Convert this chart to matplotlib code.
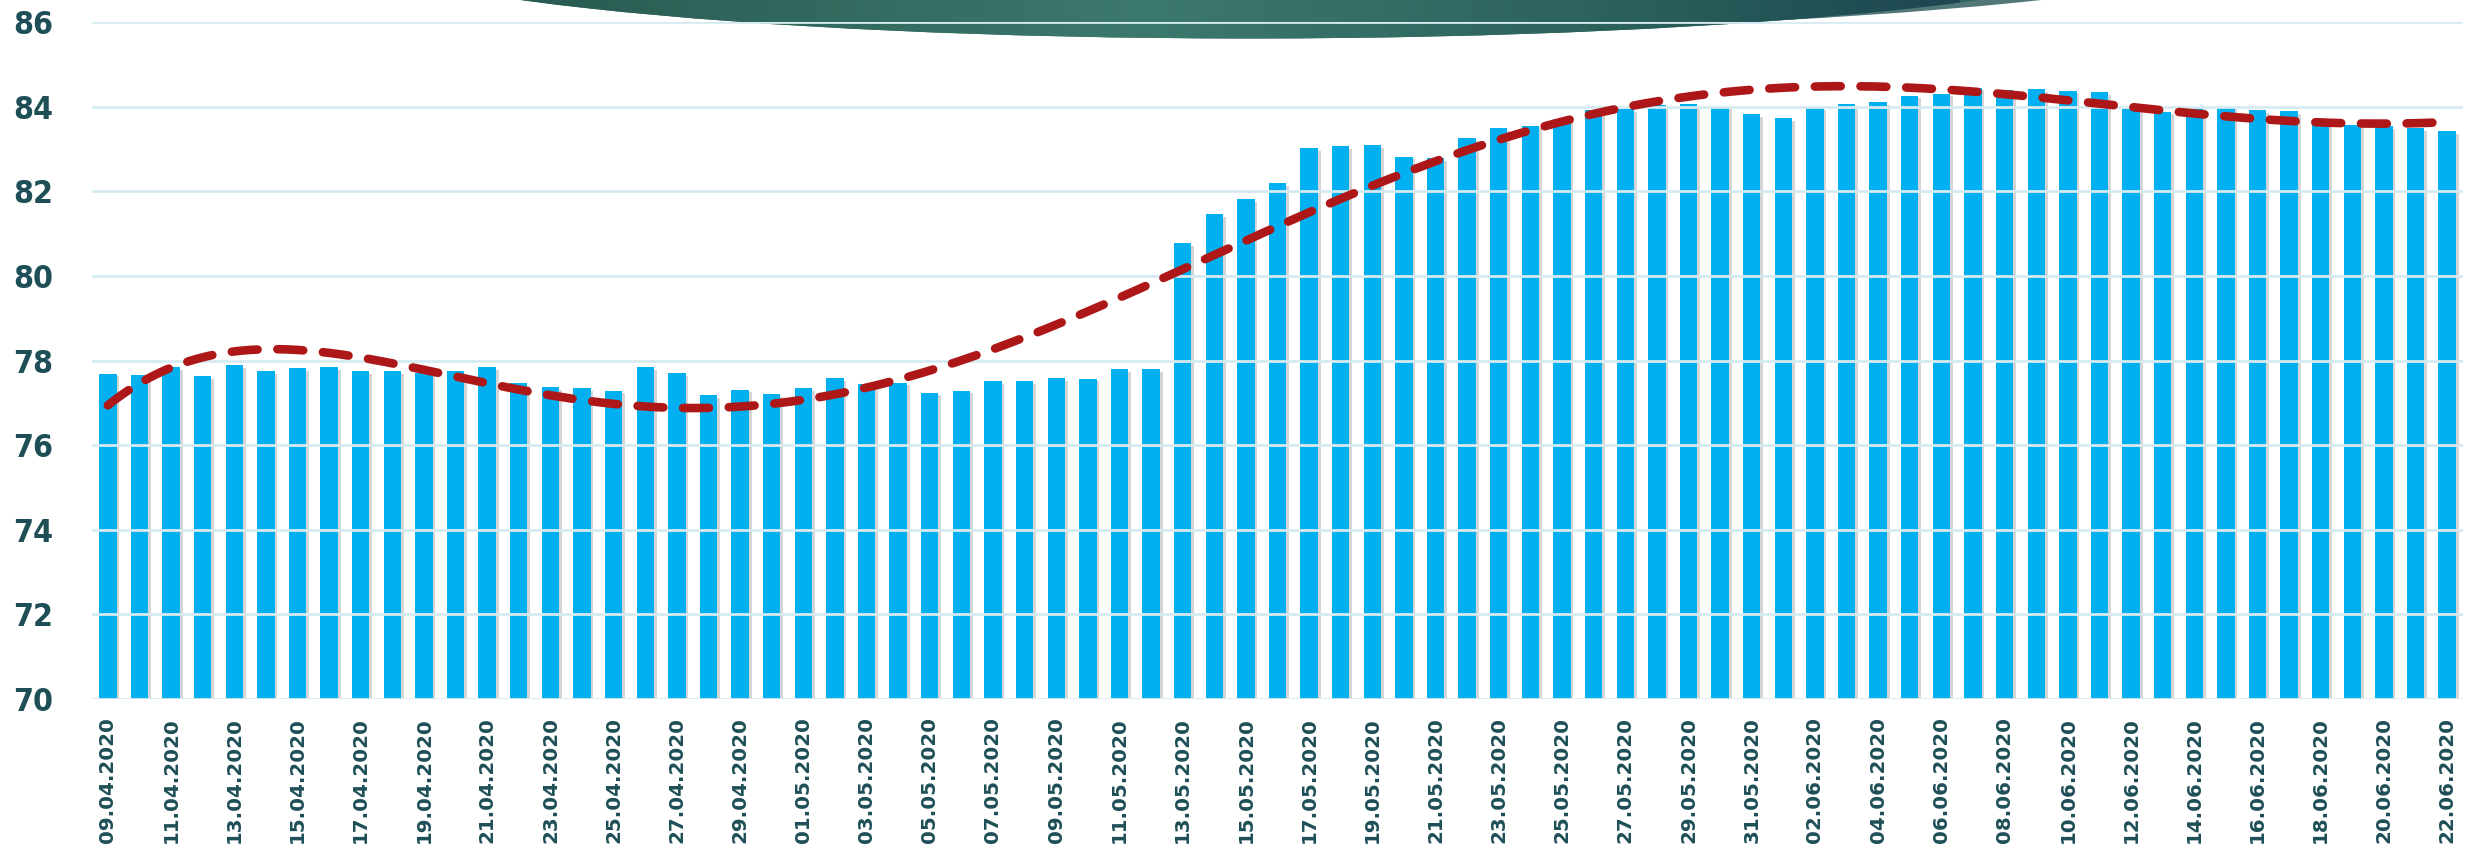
import numpy as np
import matplotlib
matplotlib.use("Agg")
from matplotlib import pyplot as plt
from matplotlib.patches import Ellipse
from matplotlib.colors import LinearSegmentedColormap
import matplotlib.patheffects as pe
import datetime as dt

# daily share values, 09.04.2020 - 22.06.2020
start = dt.date(2020, 4, 9)
values = [
    77.69, 77.65, 77.84, 77.63, 77.89, 77.75, 77.82, 77.84, 77.75, 77.75,
    77.70, 77.75, 77.84, 77.46, 77.38, 77.35, 77.29, 77.84, 77.71, 77.19,
    77.31, 77.21, 77.35, 77.59, 77.45, 77.48, 77.24, 77.29, 77.52, 77.52,
    77.58, 77.57, 77.80, 77.80, 80.78, 81.46, 81.82, 82.19, 83.02, 83.06,
    83.09, 82.82, 82.79, 83.26, 83.49, 83.55, 83.71, 83.92, 83.95, 84.05,
    84.07, 84.00, 83.83, 83.73, 83.98, 84.07, 84.11, 84.26, 84.31, 84.45,
    84.40, 84.41, 84.38, 84.35, 83.95, 83.88, 84.00, 84.00, 83.92, 83.90,
    83.62, 83.57, 83.54, 83.50, 83.43,
]
dates = [(start + dt.timedelta(days=i)).strftime("%d.%m.%Y") for i in range(len(values))]

teal = "#1E4F57"
bar_color = "#00B0F0"
grid_color = "#D6EBF1"

fig = plt.figure(figsize=(24.70, 8.55), dpi=100)

# decorative banner behind the chart (pixel coordinates, y downwards)
bg = fig.add_axes([0, 0, 1, 1], zorder=0)
bg.axis("off")
sliver = Ellipse((1300, -70), 2030, 205, facecolor="#527779", edgecolor="none")
bg.add_patch(sliver)
shape = Ellipse((1250, -64), 1868, 205, facecolor="#2F675F", edgecolor="none")
bg.add_patch(shape)
band = LinearSegmentedColormap.from_list(
    "band", [(0, "#27594F"), (0.45, "#3C796D"), (0.75, "#2C635D"), (1.0, "#1D4650")])
img = bg.imshow(np.linspace(0, 1, 256)[np.newaxis, :], extent=(480, 1960, 60, -10),
                cmap=band, aspect="auto", vmin=0, vmax=1, zorder=2)
img.set_clip_path(shape)
bg.set_xlim(0, 2470)
bg.set_ylim(855, 0)

ax = fig.add_axes([92 / 2470, 156 / 855, (2463 - 92) / 2470, 677 / 855], zorder=1)
ax.patch.set_alpha(0)

x = np.arange(len(values))
bars = ax.bar(x, np.array(values) - 70, bottom=70, width=0.55, color=bar_color, zorder=2)
for b in bars:
    b.set_path_effects([pe.SimplePatchShadow(offset=(2, -2), shadow_rgbFace="#888888", alpha=0.35),
                        pe.Normal()])

# polynomial trend over the daily values
coef = np.polyfit(x + 1, values, 6)
xs = np.linspace(0, len(values) - 1, 400)
ax.plot(xs, np.polyval(coef, xs + 1), color="#AE1717", lw=6.2,
        linestyle=(0, (3.0, 2.3)), dash_capstyle="round", zorder=3)

ax.set_ylim(70, 86)
ax.set_xlim(-0.5, len(values) - 0.5)
ax.set_yticks(np.arange(70, 87, 2))
ax.yaxis.grid(True, color=grid_color, lw=2, zorder=1)
ax.set_axisbelow(False)
for s in ax.spines.values():
    s.set_visible(False)
ax.tick_params(axis="both", length=0)
ax.tick_params(axis="y", pad=28)
for lab in ax.get_yticklabels():
    lab.set_fontsize(23)
    lab.set_fontweight("bold")
    lab.set_fontstretch("condensed")
    lab.set_color(teal)

ax.set_xticks(x[::2])
ax.set_xticklabels(dates[::2], rotation=90, fontsize=14.3, fontweight="bold", color=teal)
ax.tick_params(axis="x", pad=13)

fig.savefig("out.png", dpi=100)
